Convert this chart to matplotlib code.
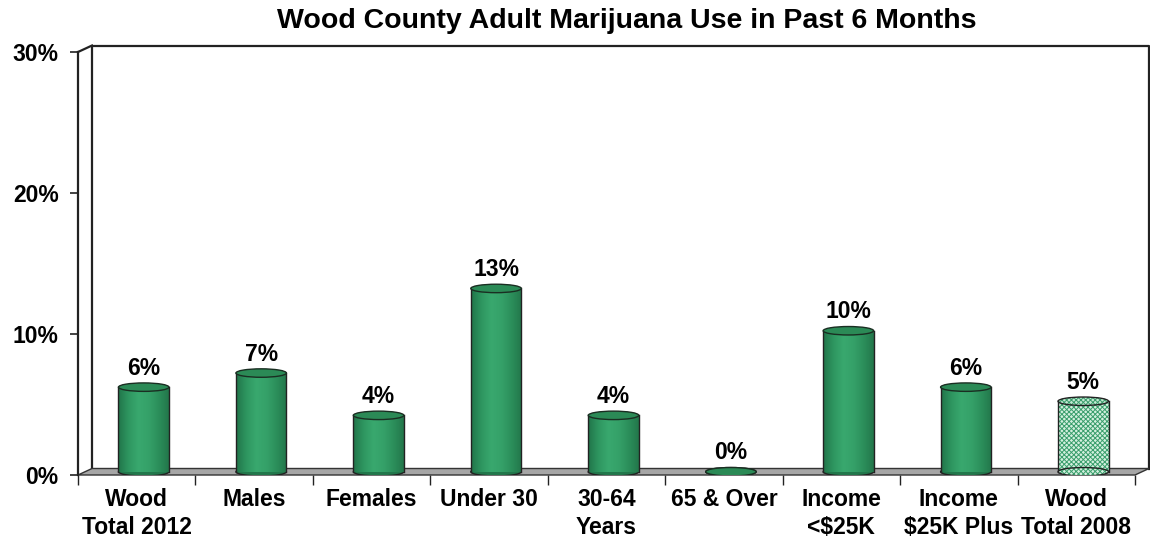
"""
Bar chart of adult marijuana use in Wood County, drawn as 3D-style cylinders.
"""
import numpy as np
import matplotlib
matplotlib.use('Agg')
import matplotlib.pyplot as plt
from matplotlib.colors import LinearSegmentedColormap
from matplotlib.patches import Ellipse, Polygon, Rectangle
from matplotlib.transforms import ScaledTranslation, IdentityTransform

plt.rcParams['font.family'] = ['Liberation Sans', 'DejaVu Sans']
plt.rcParams['font.weight'] = 'bold'
plt.rcParams['hatch.linewidth'] = 0.7

categories = ['Wood\nTotal 2012', 'Males', 'Females', 'Under 30', '30-64\nYears',
              '65 & Over', 'Income\n<$25K', 'Income\n$25K Plus', 'Wood\nTotal 2008']
values = [6, 7, 4, 13, 4, 0, 10, 6, 5]
hatched = [False] * 8 + [True]
y_ticks = [0, 10, 20, 30]
title = 'Wood County Adult Marijuana Use in Past 6 Months'

W, H, DPI = 1150, 543, 100
DEPTH_X, DEPTH_Y = 14, 6.5   # pixel offset of the back wall
BAR_W = 0.43
CAP_H = 0.6                  # ellipse height in data units

fig = plt.figure(figsize=(W / DPI, H / DPI), dpi=DPI)
ax = fig.add_axes([78 / W, (H - 475) / H, (1135 - 78) / W, (475 - 52) / H])
n = len(categories)
ax.set_xlim(-0.5, n - 0.5)
ax.set_ylim(0, 30)

back = ax.transData + ScaledTranslation(DEPTH_X / DPI, DEPTH_Y / DPI, fig.dpi_scale_trans)
mid = ax.transData + ScaledTranslation(DEPTH_X / 2 / DPI, DEPTH_Y / 2 / DPI, fig.dpi_scale_trans)

x0, x1 = -0.5, n - 0.5
line_kw = dict(color='#222222', lw=1.6, clip_on=False)

# back wall
ax.add_patch(Polygon([(x0, 0), (x1, 0), (x1, 30), (x0, 30)], closed=True,
                     facecolor='white', edgecolor='none', transform=back, zorder=0))
ax.plot([x0, x0, x1, x1], [0, 30, 30, 0], transform=back, zorder=1, **line_kw)

# left side wall top edge
p_front = ax.transData.transform([(x0, 30), (x0, 0)])
ax.plot([p_front[0][0], p_front[0][0] + DEPTH_X], [p_front[0][1], p_front[0][1] + DEPTH_Y],
        transform=IdentityTransform(), zorder=1, **line_kw)

# floor slab
front_pts = ax.transData.transform([(x0, 0), (x1, 0)])
back_pts = front_pts + np.array([DEPTH_X, DEPTH_Y])
floor = np.array([front_pts[0], front_pts[1], back_pts[1], back_pts[0]])
ax.add_patch(Polygon(floor, closed=True, facecolor='#a6a6a6', edgecolor='#333333',
                     lw=1.0, transform=IdentityTransform(), zorder=2, clip_on=False))

# cylinder shading
body_cmap = LinearSegmentedColormap.from_list(
    'cyl', ['#21754a', '#2e9660', '#39a86e', '#35a169', '#2c8f5b', '#22774b'])
grad = np.linspace(0, 1, 64).reshape(1, -1)

for i, (v, h) in enumerate(zip(values, hatched)):
    left, right = i - BAR_W / 2, i + BAR_W / 2
    if h:
        ax.add_patch(Ellipse((i, 0), BAR_W, CAP_H, facecolor='#d4f0df', edgecolor='#3a9e6c',
                             hatch='xxxxxxx', lw=0, transform=mid, zorder=3))
        ax.add_patch(Rectangle((left, 0), BAR_W, v, facecolor='#d4f0df', edgecolor='#3a9e6c',
                               hatch='xxxxxxx', lw=0, transform=mid, zorder=3))
        ax.add_patch(Ellipse((i, 0), BAR_W, CAP_H, facecolor='none', edgecolor='#222222',
                             lw=1.0, transform=mid, zorder=3))
        top_face = '#c4e9d3'
    else:
        ax.add_patch(Ellipse((i, 0), BAR_W, CAP_H, facecolor='#22774b', edgecolor='#222222',
                             lw=1.0, transform=mid, zorder=3))
        if v > 0:
            clip = Rectangle((left, 0), BAR_W, v, transform=mid)
            im = ax.imshow(grad, cmap=body_cmap, aspect='auto', extent=(left, right, 0, v),
                           transform=mid, zorder=3, interpolation='bilinear')
            im.set_clip_path(clip)
        top_face = '#2b8a56'
    ax.plot([left, left], [0, v], transform=mid, color='#222222', lw=1.0, zorder=3)
    ax.plot([right, right], [0, v], transform=mid, color='#222222', lw=1.0, zorder=3)
    if h:
        ax.add_patch(Ellipse((i, v), BAR_W, CAP_H, facecolor=top_face, edgecolor='#3a9e6c',
                             hatch='xxxxxxx', lw=0, transform=mid, zorder=4))
        ax.add_patch(Ellipse((i, v), BAR_W, CAP_H, facecolor='none', edgecolor='#222222',
                             lw=1.0, transform=mid, zorder=4))
    else:
        ax.add_patch(Ellipse((i, v), BAR_W, CAP_H, facecolor=top_face, edgecolor='#1a2e22',
                             lw=1.0, transform=mid, zorder=4))
    ax.annotate(f'{v}%', (i, v), xycoords=mid, xytext=(0, 9), textcoords='offset points',
                ha='center', va='baseline', fontsize=16.5, fontweight='bold', zorder=5)

ax.set_xlim(x0, x1)
ax.set_ylim(0, 30)

# axes: front left spine plus category boundary ticks
for side in ('top', 'right', 'bottom'):
    ax.spines[side].set_visible(False)
ax.spines['left'].set_color('#222222')
ax.spines['left'].set_linewidth(1.6)
ax.patch.set_visible(False)

ax.set_yticks(y_ticks)
ax.set_yticklabels([f'{t}%' for t in y_ticks])
ax.tick_params(axis='y', length=6, width=1.2, color='#222222', labelsize=16.5, pad=8)

ax.set_xticks(range(n))
ax.set_xticklabels(categories, linespacing=1.3)
ax.set_xticks(np.arange(-0.5, n), minor=True)
ax.tick_params(axis='x', which='major', length=0, labelsize=16.5, pad=9)
ax.tick_params(axis='x', which='minor', length=7, width=1.0, color='#222222')

fig.text(627 / W, 1 - 21 / H, title, ha='center', va='center', fontsize=20.5,
         fontweight='bold')

fig.savefig('out.png', dpi=DPI)
plt.close(fig)
